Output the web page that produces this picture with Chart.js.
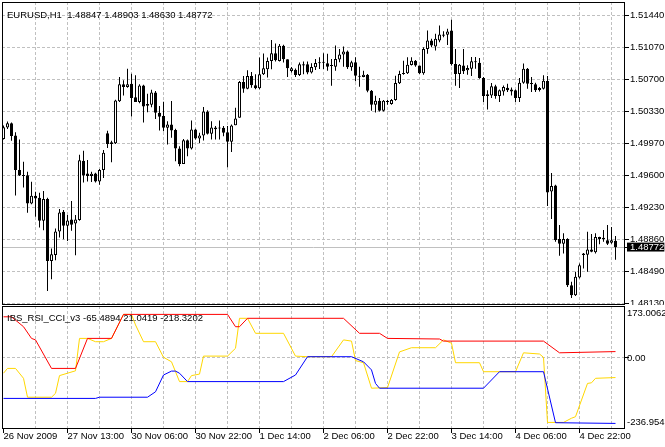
<!DOCTYPE html>
<html>
<head>
<meta charset="utf-8">
<title>EURUSD,H1</title>
<script src="https://cdn.jsdelivr.net/npm/chart.js@4.4.0/dist/chart.umd.min.js"></script>
<style>
  html, body { margin: 0; padding: 0; background: #ffffff; overflow: hidden; }
  canvas { position: absolute; left: 0; display: block; }
  #price-chart { top: 0; }
  #ind-chart { top: 305px; }
</style>
</head>
<body>
<canvas id="price-chart" width="665" height="305"></canvas>
<canvas id="ind-chart" width="665" height="142"></canvas>
<script>
// EURUSD H1 candles, one entry per bar (bar 0 = 26 Nov 2009 21:00)
const opens = [
  1.50018,1.50149,1.50199,1.50057,1.4966,1.49599,1.49602,1.49275,1.49364,1.49343,
  1.49077,1.49328,1.48615,1.48685,1.48954,1.49181,1.4902,1.49093,1.49046,1.49085,
  1.49768,1.49622,1.49591,1.49622,1.49529,1.4966,1.50084,1.4998,1.49968,1.50453,
  1.50646,1.50615,1.50653,1.50499,1.50442,1.50634,1.50419,1.50411,1.50553,1.5032,
  1.50281,1.50146,1.50185,1.5012,1.49908,1.49731,1.50004,1.49908,1.50127,1.50023,
  1.50058,1.50335,1.50077,1.5015,1.50146,1.50146,1.50096,1.49985,1.50177,1.50262,
  1.50674,1.50597,1.50743,1.50635,1.50601,1.50763,1.5082,1.50916,1.51005,1.50916,
  1.5109,1.50936,1.50801,1.50813,1.50755,1.50878,1.50878,1.50782,1.50842,1.509,
  1.509,1.50889,1.50862,1.5085,1.50931,1.50989,1.51023,1.50842,1.509,1.50746,
  1.50731,1.50758,1.50573,1.50411,1.50457,1.50342,1.50455,1.50419,1.50465,1.50658,
  1.50777,1.50773,1.50869,1.50919,1.50862,1.50773,1.51054,1.5115,1.51081,1.5115,
  1.5122,1.51216,1.51266,1.50881,1.50765,1.50862,1.50808,1.50827,1.50912,1.50896,
  1.50719,1.50531,1.50519,1.50623,1.50511,1.50565,1.50608,1.50588,1.50577,1.50488,
  1.50665,1.50827,1.50654,1.50646,1.50604,1.50596,1.50685,1.49414,1.49484,1.48868,
  1.48814,1.48868,1.48336,1.48221,1.48425,1.48702,1.48687,1.48748,1.48714,1.48891,
  1.48883,1.48852,1.48825,1.48847
];
const highs = [
  1.50172,1.50218,1.50207,1.50095,1.50011,1.49756,1.49641,1.49526,1.4941,1.49401,
  1.4942,1.49343,1.48758,1.48989,1.49212,1.492,1.49143,1.49304,1.49143,1.49838,
  1.49883,1.49776,1.49641,1.49629,1.49672,1.49891,1.50114,1.49999,1.50469,1.5073,
  1.50692,1.50827,1.50769,1.5075,1.50646,1.50642,1.50538,1.50584,1.50569,1.50397,
  1.50447,1.50223,1.50454,1.50135,1.49935,1.50019,1.50012,1.50231,1.50135,1.50089,
  1.50385,1.50347,1.50223,1.50166,1.50231,1.50166,1.50166,1.50185,1.50377,1.50685,
  1.50743,1.50809,1.50789,1.50763,1.50955,1.51001,1.50955,1.51155,1.51117,1.51109,
  1.51101,1.50936,1.50847,1.50828,1.50897,1.50909,1.50909,1.5089,1.50939,1.50958,
  1.51004,1.50997,1.50939,1.51093,1.51054,1.51081,1.51035,1.50919,1.50958,1.5085,
  1.50804,1.50765,1.50581,1.50515,1.50488,1.50465,1.50465,1.50477,1.50746,1.50804,
  1.50919,1.50958,1.50958,1.50927,1.50862,1.51073,1.51266,1.5117,1.51227,1.51324,
  1.51258,1.51285,1.51389,1.51054,1.50881,1.51054,1.50865,1.50962,1.50962,1.5095,
  1.50731,1.50577,1.50661,1.50642,1.50588,1.50634,1.50654,1.50611,1.50588,1.50719,
  1.50885,1.50835,1.50731,1.50665,1.50615,1.5075,1.50742,1.49626,1.49491,1.49029,
  1.48933,1.48875,1.48375,1.4849,1.48587,1.48707,1.48952,1.48926,1.48933,1.48895,
  1.48972,1.49029,1.49006,1.48903
];
const lows = [
  1.50011,1.50134,1.49999,1.49368,1.49591,1.4946,1.49171,1.49267,1.49125,1.49,
  1.48969,1.48269,1.48404,1.48623,1.48885,1.48866,1.48846,1.48962,1.48681,1.49077,
  1.49518,1.49529,1.49522,1.49518,1.49491,1.49568,1.49914,1.49749,1.4996,1.50442,
  1.50519,1.50607,1.50276,1.50442,1.5043,1.50207,1.50326,1.50384,1.50249,1.50116,
  1.50108,1.49954,1.50031,1.49761,1.49704,1.49731,1.49819,1.49896,1.50012,1.49973,
  1.5,1.50069,1.50012,1.50012,1.50012,1.5005,1.49692,1.49869,1.50177,1.50262,
  1.50551,1.50589,1.50608,1.50589,1.50589,1.50755,1.50724,1.5082,1.50909,1.50909,
  1.50897,1.50732,1.50782,1.50732,1.50743,1.50763,1.50763,1.5077,1.50812,1.50823,
  1.50823,1.50804,1.50631,1.50804,1.509,1.5085,1.50823,1.50804,1.50681,1.50619,
  1.50727,1.50554,1.50342,1.50323,1.50334,1.50334,1.50411,1.50411,1.50457,1.5065,
  1.50758,1.50765,1.50862,1.5085,1.50765,1.50758,1.50997,1.51073,1.51035,1.51131,
  1.51189,1.511,1.50862,1.50631,1.50604,1.50765,1.50758,1.50742,1.50827,1.50711,
  1.50442,1.50357,1.50488,1.5048,1.50442,1.50519,1.50557,1.50519,1.50442,1.50442,
  1.50654,1.50596,1.50557,1.50557,1.50565,1.50588,1.49248,1.49099,1.48837,1.48675,
  1.48702,1.48317,1.4819,1.48213,1.48413,1.48529,1.4849,1.48714,1.48702,1.48806,
  1.48837,1.48798,1.48814,1.4863
];
const closes = [
  1.50153,1.50199,1.50053,1.4966,1.49599,1.49591,1.49275,1.49364,1.49333,1.49077,
  1.49328,1.48615,1.48692,1.48954,1.49173,1.4902,1.49081,1.49031,1.49093,1.49773,
  1.49599,1.49591,1.49618,1.49529,1.4966,1.4986,1.4996,1.4996,1.50461,1.50646,
  1.50615,1.50646,1.50488,1.50442,1.50634,1.50392,1.50399,1.50553,1.50319,1.50274,
  1.50146,1.50185,1.50116,1.49908,1.49731,1.50004,1.49908,1.50127,1.50023,1.50058,
  1.50335,1.50077,1.5015,1.50131,1.50139,1.50089,1.49985,1.50173,1.50254,1.50674,
  1.50597,1.50743,1.50635,1.50601,1.50763,1.50832,1.50916,1.51005,1.50924,1.5109,
  1.50936,1.50832,1.50832,1.50755,1.50878,1.50863,1.50782,1.50847,1.50893,1.50889,
  1.50896,1.5085,1.50858,1.50939,1.50989,1.51023,1.50842,1.509,1.50746,1.50735,
  1.50758,1.50573,1.50411,1.50457,1.50342,1.50457,1.50442,1.50465,1.50662,1.50765,
  1.50765,1.50873,1.50919,1.50862,1.50773,1.51054,1.5115,1.51093,1.5117,1.5122,
  1.51204,1.51254,1.50881,1.50765,1.50873,1.50796,1.50835,1.50912,1.509,1.50719,
  1.50511,1.50511,1.50623,1.50511,1.50577,1.50615,1.50577,1.50565,1.50488,1.50665,
  1.50827,1.50654,1.5065,1.50577,1.50581,1.50688,1.49402,1.49476,1.48856,1.48814,
  1.48868,1.48336,1.48221,1.48433,1.48567,1.48683,1.48748,1.48721,1.48891,1.48868,
  1.48868,1.48814,1.48852,1.48772
];

// IBS_RSI_CCI_v3 lines: bar index of each turning point and its value
const yellowIdx = [0,1,3,5,6,12,13,14,16,18,19,21,23,25,27,30,32,33,35,38,40,42,44,46,47,49,50,56,58,59,61,63,70,73,76,82,85,87,88,90,92,96,99,102,108,110,112,113,119,120,128,130,134,135,136,140,142,143,146,147,148,153];
const yellowVal = [-51,-35,-35,-68,-131,-131,-118,-59,-51,-43,65,65,54,54,65,145,145,110,54,54,2,-13,-79,-79,-59,-54,6,6,32,132,132,82,82,6,4,4,60,56,-9,-16,-101,-99,20,34,34,60,49,-16,-16,-46,-46,17,13,2,-215,-215,-201,-196,-85,-83,-68,-65.4894];
const redIdx = [0,2,5,7,8,12,18,21,27,30,56,58,59,61,85,89,94,96,109,110,135,139,153];
const redVal = [137,137,104,65,60,-35,-35,65,65,145,145,104,104,132,132,82,82,65,63,56,56,17,21.0419];
const blueIdx = [0,23,24,36,38,40,42,43,44,46,70,73,76,87,90,92,93,94,120,124,135,138,153];
const blueVal = [-135,-135,-131,-131,-113,-57,-44,-44,-51,-79,-79,-57,4,4,-13,-40,-85,-101,-101,-46,-46,-216,-218.3202];

// axis ticks and labels
const priceTicks = [1.5144, 1.5107, 1.5070, 1.5033, 1.4997, 1.4960, 1.4923, 1.4886, 1.4849, 1.4813];
const indTicks = [173.0062, 0, -236.954];
const gridIdx = [8,16,24,32,40,48,56,64,72,80,88,96,104,112,120,128,136,144,152];
const xLabelIdx = [0,16,32,48,64,80,96,112,128,144];
const xLabels = ['26 Nov 2009','27 Nov 13:00','30 Nov 06:00','30 Nov 22:00','1 Dec 14:00',
                 '2 Dec 06:00','2 Dec 22:00','3 Dec 14:00','4 Dec 06:00','4 Dec 22:00'];

const SYMBOL = 'EURUSD,H1';
const IND_NAME = 'IBS_RSI_CCI_v3';

const X_MIN = -0.375, X_MAX = 155.375;
const PRICE_MIN = 1.481087, PRICE_MAX = 1.515933;
const IND_MIN = -236.954, IND_MAX = 173.0062;

const GRID = '#c0c0c0';
const FAMILY = "'Liberation Sans', Arial, sans-serif";
const last = closes.length - 1;
const lastClose = closes[last];

// keep label overhang from shrinking the plot area
function noPad(s) {
    s.paddingTop = 0;
    s.paddingBottom = 0;
    s.paddingLeft = 0;
    s.paddingRight = 0;
}

const framePlugin = {
    id: 'frame',
    afterDraw(chart) {
        const {ctx, chartArea: a} = chart;
        ctx.save();
        ctx.strokeStyle = '#000';
        ctx.lineWidth = 1;
        ctx.strokeRect(a.left + 0.5, a.top + 0.5, a.right - a.left - 1, a.bottom - a.top - 1);
        ctx.restore();
    }
};

const captionPlugin = {
    id: 'caption',
    afterDatasetsDraw(chart, args, opts) {
        const {ctx, chartArea: a} = chart;
        ctx.save();
        ctx.font = '9.5px ' + FAMILY;
        ctx.fillStyle = '#000';
        ctx.textBaseline = 'alphabetic';
        ctx.fillText(opts.text, a.left + 5, a.top + opts.dy);
        ctx.restore();
    }
};

// solid bid line at the last close
const bidLinePlugin = {
    id: 'bidLine',
    beforeDatasetsDraw(chart) {
        const {ctx, chartArea: a, scales} = chart;
        const y = Math.floor(scales.y.getPixelForValue(lastClose)) + 0.5;
        ctx.save();
        ctx.strokeStyle = GRID;
        ctx.lineWidth = 1;
        ctx.beginPath();
        ctx.moveTo(a.left, y);
        ctx.lineTo(a.right, y);
        ctx.stroke();
        ctx.restore();
    }
};

const bodies = closes.map((c, i) => ({x: i, y: [opens[i], c]}));
const wicks = closes.map((c, i) => ({x: i, y: [lows[i], highs[i]]}));

new Chart(document.getElementById('price-chart'), {
    type: 'bar',
    data: {
        datasets: [
            {
                label: 'body',
                data: bodies,
                order: 0,
                grouped: false,
                barThickness: 3,
                minBarLength: 1,
                borderWidth: 1,
                borderColor: '#000',
                borderSkipped: false,
                inflateAmount: 0,
                backgroundColor: (ctx) => closes[ctx.dataIndex] >= opens[ctx.dataIndex] ? '#fff' : '#000'
            },
            {
                label: 'wick',
                data: wicks,
                order: 1,
                grouped: false,
                barThickness: 1,
                minBarLength: 1,
                borderWidth: 0,
                inflateAmount: 0,
                backgroundColor: '#000'
            }
        ]
    },
    options: {
        responsive: false,
        animation: false,
        devicePixelRatio: 1,
        events: [],
        layout: {autoPadding: false, padding: {left: 2, top: 2, right: 0, bottom: 0}},
        plugins: {
            legend: {display: false},
            tooltip: {enabled: false},
            caption: {
                text: SYMBOL + '  ' + [opens[last], highs[last], lows[last], closes[last]].map(v => v.toFixed(5)).join(' '),
                dy: 16
            }
        },
        scales: {
            x: {
                type: 'linear',
                min: X_MIN,
                max: X_MAX,
                offset: false,
                afterBuildTicks: (s) => { s.ticks = gridIdx.map(v => ({value: v})); },
                afterFit: (s) => { s.height = 0; noPad(s); },
                ticks: {display: false},
                grid: {color: GRID, drawTicks: false, offset: false},
                border: {display: false, dash: [3, 2]}
            },
            y: {
                position: 'right',
                min: PRICE_MIN,
                max: PRICE_MAX,
                afterBuildTicks: (s) => { s.ticks = priceTicks.concat([lastClose]).map(v => ({value: v})); },
                afterFit: (s) => { s.width = 40; noPad(s); },
                ticks: {
                    font: {family: FAMILY, size: 9.5},
                    color: (ctx) => ctx.tick.value === lastClose ? '#fff' : '#000',
                    padding: 1,
                    showLabelBackdrop: (ctx) => ctx.tick.value === lastClose,
                    backdropColor: '#000',
                    backdropPadding: {left: 3, right: 0, top: -1, bottom: -1.5},
                    callback: (v) => v.toFixed(5)
                },
                grid: {
                    color: (ctx) => ctx.tick.value === lastClose ? 'transparent' : GRID,
                    tickColor: '#000',
                    tickLength: 4,
                    tickBorderDash: []
                },
                border: {display: false, dash: [3, 2]}
            }
        }
    },
    plugins: [bidLinePlugin, captionPlugin, framePlugin]
});

const toPoints = (idx, vals) => idx.map((x, k) => ({x: x, y: vals[k]}));
const lineStyle = {borderWidth: 1, pointRadius: 0, tension: 0, fill: false};

new Chart(document.getElementById('ind-chart'), {
    type: 'line',
    data: {
        datasets: [
            Object.assign({label: 'blue', data: toPoints(blueIdx, blueVal), borderColor: '#0000ff'}, lineStyle),
            Object.assign({label: 'red', data: toPoints(redIdx, redVal), borderColor: '#ff0000'}, lineStyle),
            Object.assign({label: 'yellow', data: toPoints(yellowIdx, yellowVal), borderColor: '#ffd700'}, lineStyle)
        ]
    },
    options: {
        responsive: false,
        animation: false,
        devicePixelRatio: 1,
        events: [],
        layout: {autoPadding: false, padding: {left: 2, top: 1, right: 0, bottom: 0}},
        plugins: {
            legend: {display: false},
            tooltip: {enabled: false},
            caption: {
                text: IND_NAME + ' ' + [yellowVal, redVal, blueVal].map(a => a[a.length - 1].toFixed(4)).join(' '),
                dy: 15
            }
        },
        scales: {
            x: {
                type: 'linear',
                min: X_MIN,
                max: X_MAX,
                afterBuildTicks: (s) => { s.ticks = [0].concat(gridIdx).map(v => ({value: v})); },
                afterFit: (s) => { s.height = 18; noPad(s); },
                ticks: {
                    autoSkip: false,
                    maxRotation: 0,
                    align: 'start',
                    padding: -2,
                    color: '#000',
                    font: {family: FAMILY, size: 9.5},
                    callback: (v) => {
                        const k = xLabelIdx.indexOf(v);
                        return k >= 0 ? xLabels[k] : '';
                    }
                },
                grid: {
                    color: (ctx) => ctx.tick.value === 0 ? 'transparent' : GRID,
                    tickColor: (ctx) => xLabelIdx.indexOf(ctx.tick.value) >= 0 ? '#000' : 'transparent',
                    tickLength: 4,
                    tickBorderDash: []
                },
                border: {display: false, dash: [3, 2]}
            },
            y: {
                position: 'right',
                min: IND_MIN,
                max: IND_MAX,
                afterBuildTicks: (s) => { s.ticks = indTicks.map(v => ({value: v})); },
                afterFit: (s) => { s.width = 40; noPad(s); },
                ticks: {
                    font: {family: FAMILY, size: 9.5, lineHeight: 1.5},
                    color: '#000',
                    padding: -2,
                    callback: (v) => {
                        if (v === IND_MAX) return ['', v.toString()];
                        if (v === IND_MIN) return [v.toString(), ''];
                        return v.toFixed(2);
                    }
                },
                grid: {
                    color: (ctx) => ctx.tick.value === 0 ? GRID : 'transparent',
                    tickColor: (ctx) => ctx.tick.value === 0 ? '#000' : 'transparent',
                    tickLength: 4,
                    tickBorderDash: []
                },
                border: {display: false, dash: [3, 2]}
            }
        }
    },
    plugins: [captionPlugin, framePlugin]
});
</script>
</body>
</html>
